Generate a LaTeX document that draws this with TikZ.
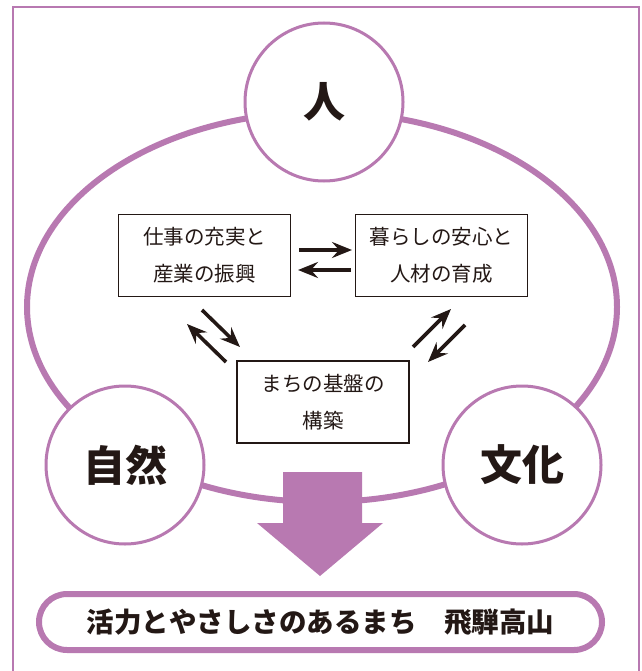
\documentclass[tikz,border=0pt]{standalone}
\usepackage{fontspec}
\usepackage{tikz}
\usetikzlibrary{arrows.meta}
\newfontfamily\jp{Noto Sans CJK JP}
\definecolor{lilac}{RGB}{184,121,177}
\definecolor{ink}{RGB}{35,24,21}

\begin{document}
\begin{tikzpicture}[x=1pt, y=-1pt,
    ring/.style={draw=lilac, line width=6pt},
    pillar/.style={circle, draw=lilac, line width=3pt, fill=white, minimum size=158pt, inner sep=0pt,
      text=ink, font=\jp\bfseries\fontsize{42}{46}\selectfont},
    goalbox/.style={draw=ink, line width=1.5pt, fill=white, minimum width=172pt, minimum height=82pt,
      align=center, text=ink, font=\jp\fontsize{20.5}{37}\selectfont},
    swap/.style={draw=ink, line width=3.6pt, -{Stealth[length=20pt, width=16pt, inset=7pt]}}]
      \useasboundingbox (0, 0) rectangle (641, 671);
      \draw[lilac, line width=1.5pt] (13, 690) -- (13, 7) -- (639, 7) -- (639, 690);

      \draw[ring] (322, 307) ellipse [x radius=295, y radius=195];

      \node[pillar] (hito) at (324, 102) {人};
      \node[pillar] (shizen) at (125, 465) {自然};
      \node[pillar] (bunka) at (522, 465) {文化};

      \node[goalbox] (shigoto) at (204.5, 255.5) {仕事の充実と\\産業の振興};
      \node[goalbox] (kurashi) at (441.5, 255.5) {暮らしの安心と\\人材の育成};
      \node[goalbox] (kiban) at (323, 402) {まちの基盤の\\構築};

      \coordinate (s1) at (299, 250);  \coordinate (k1) at (352, 250);
      \coordinate (s2) at (298, 270);  \coordinate (k2) at (351, 270);
      \draw[swap] (s1) -- (k1);
      \draw[swap] (k2) -- (s2);

      \coordinate (s3) at (202, 310);  \coordinate (m3) at (240, 347);
      \coordinate (s4) at (187, 324);  \coordinate (m4) at (226, 362);
      \draw[swap] (s3) -- (m3);
      \draw[swap] (m4) -- (s4);

      \coordinate (m5) at (413, 347);  \coordinate (k5) at (451, 309);
      \coordinate (m6) at (428, 362);  \coordinate (k6) at (465, 325);
      \draw[swap] (m5) -- (k5);
      \draw[swap] (k6) -- (m6);

      \fill[lilac] (283, 472) -- (362, 472) -- (362, 523) -- (383, 523)
        -- (320, 576) -- (257, 523) -- (283, 523) -- cycle;

      \node[draw=lilac, line width=6pt, fill=white, rounded corners=28pt, minimum width=563pt,
        minimum height=56pt, text=ink, font=\jp\bfseries\fontsize{27.5}{30}\selectfont]
        (machi) at (320.5, 622) {活力とやさしさのあるまち　飛騨高山};
    \end{tikzpicture}
\end{document}
